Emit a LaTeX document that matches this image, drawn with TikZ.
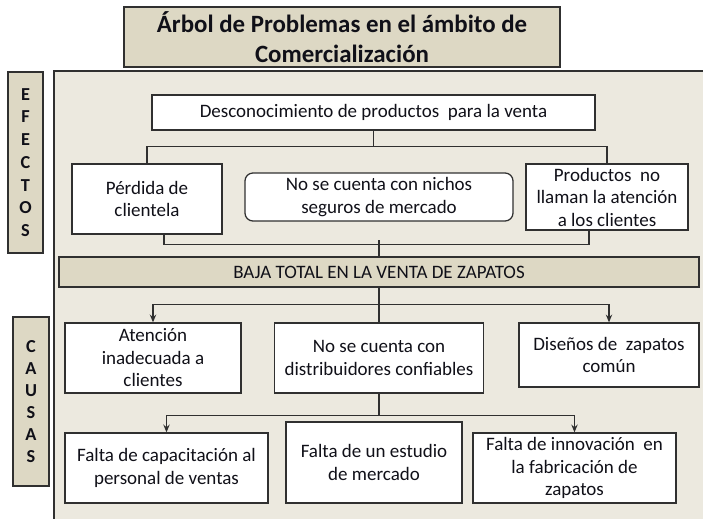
\documentclass[tikz,border=0pt]{standalone}
\usepackage{fontspec}
\setmainfont{Carlito}
\usetikzlibrary{arrows.meta}
\definecolor{panel}{HTML}{ECE9DF}
\definecolor{beige}{HTML}{DDD8C4}
\definecolor{borde}{HTML}{303030}
\definecolor{tinta}{HTML}{101018}

\begin{document}
\begin{tikzpicture}[x=0.025cm,y=-0.025cm,
    caja/.style={draw=borde,line width=0.9pt,fill=white,align=center,inner sep=0pt,text=tinta,font=\fontsize{13.5}{16}\selectfont},
    banda/.style={caja,fill=beige},
    letras/.style={banda,font=\fontsize{13}{16.2}\selectfont\bfseries},
    conector/.style={draw=borde,line width=1.2pt},
    >={Stealth[length=5.5pt,width=4.5pt]}]
    \useasboundingbox (0,0) rectangle (703,519);
    \clip (0,0) rectangle (703,519);
    \fill[white] (0,0) rectangle (703,519);
    \draw[borde,line width=1pt,fill=panel] (54,71) rectangle (720,540);

    % titulo y etiquetas laterales
    \node[banda,line width=1.2pt,minimum width=10.9cm,minimum height=1.5cm,font=\fontsize{17.7}{21.5}\selectfont\bfseries] (Titulo) at (342,37) {Árbol de Problemas en el ámbito de\\Comercialización};
    \node[letras,minimum width=0.875cm,minimum height=4.525cm] (Efectos) at (25.5,162.5) {E\\F\\E\\C\\T\\O\\S};
    \node[letras,minimum width=0.9cm,minimum height=4.225cm,font=\fontsize{13}{15.6}\selectfont\bfseries] (Causas) at (31,401.5) {C\\A\\U\\S\\A\\S};

    % efectos
    \node[caja,minimum width=11.075cm,minimum height=0.875cm] (Desc) at (373.5,112.5) {Desconocimiento de productos\ \ para la venta};
    \node[caja,minimum width=3.75cm,minimum height=1.75cm] (Perdida) at (147,199) {Pérdida de\\clientela};
    \node[caja,rounded corners=5.7pt,minimum width=6.7cm,minimum height=1.2cm] (Nichos) at (379,197) {No se cuenta con nichos\\seguros de mercado};
    \node[caja,minimum width=4.05cm,minimum height=1.65cm] (Productos) at (607,197) {Productos\ \ no\\llaman la atención\\a los clientes};

    % problema central
    \node[banda,minimum width=16cm,minimum height=0.75cm] (Baja) at (379,272) {BAJA TOTAL EN LA VENTA DE ZAPATOS};

    % causas
    \node[caja,minimum width=4.4cm,minimum height=1.75cm] (Atencion) at (153,358) {Atención\\inadecuada a\\clientes};
    \node[caja,minimum width=5.225cm,minimum height=1.75cm] (Distrib) at (379,358) {No se cuenta con\\distribuidores\ confiables};
    \node[caja,minimum width=4.5cm,minimum height=1.6cm] (Disenos) at (609,355) {Diseños de\ \ zapatos\\común};
    \node[caja,minimum width=5.075cm,minimum height=1.75cm] (FaltaCap) at (166.5,468) {Falta de capacitación al\\personal\ de ventas};
    \node[caja,minimum width=4.4cm,minimum height=2.025cm] (FaltaEst) at (374,462.5) {Falta de un estudio\\de mercado};
    \node[caja,minimum width=5.075cm,minimum height=1.75cm] (FaltaInn) at (574.5,468) {Falta de innovación\ \ en\\la fabricación de\\zapatos};

    \draw[conector] (Desc.south) -- ++(0,16) -| (Perdida.north);
    \draw[conector] (Desc.south) -- ++(0,16) -| (Productos.north);
    \draw[conector] ([xshift=0.425cm]Perdida.south) -- ++(0,10) -| ([xshift=-0.45cm]Productos.south);
    \draw[conector] (Baja.north) -- ++(0,-16);

    \draw[conector] (Baja.south) -- (Distrib.north);
    \draw[conector,->] (Baja.south) -- ++(0,17) -| (Atencion.north);
    \draw[conector,->] (Baja.south) -- ++(0,17) -| (Disenos.north);
    \draw[conector,->] (Distrib.south) -- ++(0,22) -| (FaltaCap.north);
    \draw[conector,->] (Distrib.south) -- ++(0,22) -| (FaltaInn.north);
\end{tikzpicture}
\end{document}
